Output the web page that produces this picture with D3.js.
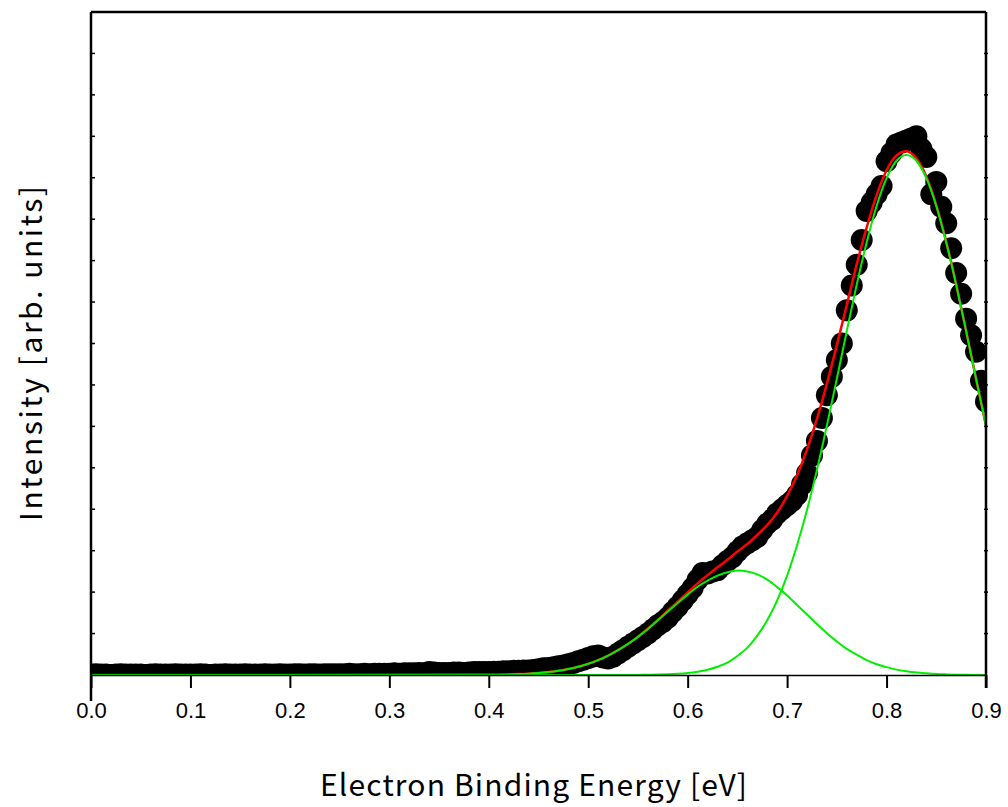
<!DOCTYPE html>
<html>
<head>
<meta charset="utf-8">
<script src="https://cdn.jsdelivr.net/npm/d3@7"></script>
<style>
  body { margin: 0; background: #fff; }
  .tick text { font-family: "Liberation Sans", Arial, sans-serif; }
  .title { font-family: "Noto Sans CJK JP", sans-serif; }
</style>
</head>
<body>
<div id="chart"></div>
<script>
// measured spectrum, one point every 0.005 eV from 0.0 to 0.9 eV
var stepEV = 0.005;
var counts = [
  0.01,0.02,0.01,0.01,0.00,0.01,0.02,0.01,0.01,0.01,
  0.01,0.00,0.01,0.02,0.01,0.01,0.01,0.02,0.01,0.01,
  0.01,0.01,0.02,0.01,0.00,0.01,0.01,0.02,0.01,0.01,
  0.01,0.02,0.01,0.01,0.01,0.02,0.01,0.01,0.02,0.01,
  0.01,0.02,0.02,0.01,0.02,0.02,0.01,0.02,0.02,0.02,
  0.02,0.02,0.03,0.02,0.02,0.03,0.02,0.03,0.03,0.03,
  0.03,0.04,0.03,0.04,0.04,0.04,0.05,0.04,0.07,0.06,
  0.05,0.05,0.05,0.06,0.06,0.05,0.06,0.07,0.07,0.07,
  0.07,0.08,0.08,0.09,0.09,0.10,0.10,0.11,0.11,0.12,
  0.14,0.16,0.17,0.19,0.21,0.23,0.26,0.29,0.33,0.37,
  0.41,0.45,0.47,0.42,0.40,0.44,0.52,0.60,0.68,0.76,
  0.84,0.92,1.00,1.10,1.20,1.28,1.38,1.52,1.65,1.80,
  1.95,2.10,2.30,2.46,2.45,2.50,2.53,2.65,2.75,2.84,
  2.98,3.10,3.18,3.25,3.33,3.50,3.65,3.75,3.90,4.00,
  4.10,4.20,4.35,4.60,4.87,5.30,5.65,6.20,6.75,7.20,
  7.60,8.00,8.80,9.40,9.90,10.50,11.20,11.40,11.60,11.80,
  12.40,12.60,12.80,12.85,12.90,12.95,13.00,12.70,12.50,11.60,
  11.90,11.30,10.90,10.30,9.70,9.20,8.60,8.20,7.80,7.10,
  6.60
];

// fit curves (total and the two components)
var fitEnergy = [0.00,
  0.40,0.41,0.42,0.43,0.44,0.45,0.46,0.47,0.48,0.49,
  0.50,0.51,0.52,0.53,0.54,0.55,0.56,0.57,0.58,0.59,
  0.60,0.61,0.62,0.63,0.64,0.65,0.66,0.67,0.68,0.69,
  0.70,0.71,0.72,0.73,0.74,0.75,0.76,0.77,0.78,0.79,
  0.80,0.81,0.82,0.83,0.84,0.85,0.86,0.87,0.88,0.89,
  0.90];
var fitTotal = [0,
  0.006,0.009,0.014,0.022,0.033,0.049,0.072,0.103,0.145,0.20,
  0.27,0.36,0.47,0.60,0.75,0.92,1.12,1.33,1.55,1.77,
  1.99,2.21,2.41,2.60,2.78,2.98,3.16,3.38,3.62,3.92,
  4.32,4.82,5.44,6.18,7.03,7.96,8.93,9.91,10.80,11.58,
  12.18,12.54,12.64,12.47,12.03,11.34,10.46,9.43,8.31,7.15,
  6.02];
var fitPeak1 = [0,
  0.006,0.009,0.014,0.022,0.033,0.049,0.072,0.103,0.145,0.20,
  0.27,0.36,0.47,0.60,0.75,0.92,1.11,1.32,1.53,1.74,
  1.94,2.13,2.28,2.40,2.48,2.52,2.50,2.43,2.30,2.12,
  1.92,1.69,1.46,1.23,1.01,0.81,0.63,0.49,0.36,0.26,
  0.19,0.13,0.09,0.06,0.04,0.024,0.015,0.009,0.005,0.003,
  0.002];
var fitPeak2 = [0,
  0,0,0,0,0,0,0,0,0,0,
  0,0,0,0,0,0.003,0.005,0.01,0.017,0.029,
  0.048,0.08,0.127,0.20,0.30,0.46,0.66,0.95,1.32,1.80,
  2.40,3.13,3.98,4.95,6.02,7.15,8.30,9.42,10.44,11.32,
  11.99,12.41,12.55,12.41,11.99,11.32,10.44,9.42,8.30,7.15,
  6.02];

var xTicks = [0.0,0.1,0.2,0.3,0.4,0.5,0.6,0.7,0.8,0.9];
var yMinorTicks = [1,2,3,4,5,6,7,8,9,10,11,12,13,14,15];

var W = 1008, H = 807;
var margin = {top: 12, right: 22, bottom: 132, left: 91};
var width = W - margin.left - margin.right,
    height = H - margin.top - margin.bottom;

var svg = d3.select("#chart")
  .append("svg")
    .attr("width", W)
    .attr("height", H)
  .append("g")
    .attr("transform", "translate(" + margin.left + "," + margin.top + ")");

var x = d3.scaleLinear().domain([0, 0.9]).range([0, width]);
var y = d3.scaleLinear().domain([0, 16]).range([height, 0]);

svg.append("clipPath").attr("id", "plotclip")
  .append("rect")
    .attr("x", 0).attr("y", 0)
    .attr("width", width).attr("height", height + 1);

var plot = svg.append("g").attr("clip-path", "url(#plotclip)");

var points = counts.map(function(v, i) { return {e: i * stepEV, v: v}; });

// data points
plot.selectAll("circle")
  .data(points)
  .enter().append("circle")
    .attr("cx", function(d) { return x(d.e); })
    .attr("cy", function(d) { return y(d.v); })
    .attr("r", 11)
    .attr("fill", "#000");

function fitLine(vals) {
  return d3.line()
    .curve(d3.curveMonotoneX)
    .x(function(d, i) { return x(fitEnergy[i]); })
    .y(function(d) { return y(d); })(vals);
}

plot.append("path")
  .attr("d", fitLine(fitTotal))
  .attr("fill", "none")
  .attr("stroke", "#ff0000")
  .attr("stroke-width", 2.5);

[fitPeak1, fitPeak2].forEach(function(vals) {
  plot.append("path")
    .attr("d", fitLine(vals))
    .attr("fill", "none")
    .attr("stroke", "#00ee00")
    .attr("stroke-width", 2);
});

// x axis
var xAxis = svg.append("g")
  .attr("transform", "translate(0," + height + ")")
  .call(d3.axisBottom(x)
    .tickValues(xTicks)
    .tickFormat(d3.format(".1f"))
    .tickSize(13)
    .tickSizeOuter(0)
    .tickPadding(14));
xAxis.select(".domain").attr("stroke-width", 1.5);
xAxis.selectAll(".tick line").attr("stroke-width", 2);
xAxis.selectAll(".tick text").attr("font-size", 22).attr("fill", "#000");

// frame
svg.append("line")
  .attr("x1", 0).attr("x2", 0).attr("y1", 0).attr("y2", height + 26)
  .attr("stroke", "#000").attr("stroke-width", 2.5);
svg.append("line")
  .attr("x1", width).attr("x2", width).attr("y1", 0).attr("y2", height + 13)
  .attr("stroke", "#000").attr("stroke-width", 2.5);
svg.append("line")
  .attr("x1", 0).attr("x2", width).attr("y1", 0).attr("y2", 0)
  .attr("stroke", "#000").attr("stroke-width", 2.5);

// small y ticks on both sides
svg.selectAll(".ytl")
  .data(yMinorTicks)
  .enter().append("line")
    .attr("x1", 0).attr("x2", 4)
    .attr("y1", function(d) { return y(d); })
    .attr("y2", function(d) { return y(d); })
    .attr("stroke", "#000").attr("stroke-width", 1.5);
svg.selectAll(".ytr")
  .data(yMinorTicks)
  .enter().append("line")
    .attr("x1", width - 2).attr("x2", width + 2)
    .attr("y1", function(d) { return y(d); })
    .attr("y2", function(d) { return y(d); })
    .attr("stroke", "#000").attr("stroke-width", 1.5);

// axis titles
svg.append("text")
  .attr("class", "title")
  .attr("x", width / 2 - 5)
  .attr("y", height + 121)
  .attr("text-anchor", "middle")
  .attr("font-size", 30)
  .attr("textLength", 427)
  .attr("lengthAdjust", "spacing")
  .text("Electron Binding Energy [eV]");

svg.append("text")
  .attr("class", "title")
  .attr("transform", "translate(" + (-49) + "," + (height / 2 + 10) + ") rotate(-90)")
  .attr("text-anchor", "middle")
  .attr("font-size", 30)
  .attr("textLength", 335)
  .attr("lengthAdjust", "spacing")
  .text("Intensity [arb. units]");
</script>
</body>
</html>
